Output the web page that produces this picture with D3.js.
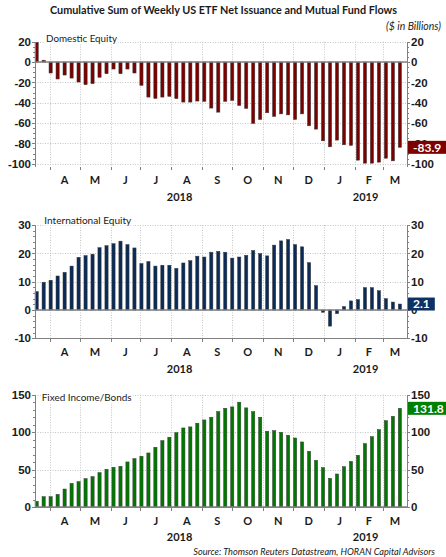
<!DOCTYPE html>
<html>
<head>
<meta charset="utf-8">
<title>Cumulative Sum of Weekly US ETF Net Issuance and Mutual Fund Flows</title>
<script src="https://cdn.jsdelivr.net/npm/d3@7"></script>
<style>
  body { margin: 0; background: #fff; }
  svg { display: block; font-family: Lato, "Open Sans", sans-serif; }
  .grid line { stroke: #c4c4c4; stroke-width: 1; stroke-dasharray: 1,1.5; }
  .axis path, .axis line { stroke: #808080; shape-rendering: crispEdges; }
  .axis text { fill: #1a1a1a; font-size: 11.5px; font-weight: bold; }
  .month, .year { fill: #1a1a1a; font-size: 11px; font-weight: bold; }
</style>
</head>
<body>
<div id="chart"></div>
<script>
// weekly observations, Mondays from 19 Mar 2018 to 18 Mar 2019 (53 weeks)
var weeks = d3.timeMonday.range(new Date(2018, 2, 19), new Date(2019, 2, 19));

var domestic = [19.3, 1.8, -10.8, -16.7, -12.8, -15.8, -19.7, -22.3, -21.3, -15,
  -11.5, -6.9, -11.5, -6.9, -10.8, -23, -34.5, -35.8, -34.5, -33.8,
  -36, -39.4, -39.4, -38.4, -38.7, -45.3, -49.3,
  -38.7, -37.8, -42.7, -45.6, -60.4, -56.5, -49.9, -53.5, -51, -52, -56.5, -51, -62.7,
  -66, -77.5, -83.4, -76.8, -81.4, -82, -96.5, -99.5, -99.5, -98.5, -94.6, -97.2, -83.9];

var international = [6.5, 9.8, 10.5, 12, 13.3, 15.5, 18.6, 19.2, 19.7, 22,
  22.7, 23.4, 24.3, 23.1, 21.9, 16.4, 17.1, 15.5, 15.8, 15.8,
  14.7, 16.6, 17.4, 19, 18.7, 20.4, 20.7,
  20.4, 18.3, 18.7, 19.3, 21, 19.9, 19.1, 22.9, 24.4, 24.9, 23.1, 22.3, 16.7,
  8.6, -0.8, -5.7, -1.3, 1.2, 3.2, 3.7, 7.9, 7.9, 6.8, 4, 2.8, 2.1];

var fixedIncome = [7.6, 13.8, 13.8, 16.9, 24, 31.6, 33.9, 37.9, 40.6, 45.9,
  50.4, 53, 54.4, 60.2, 64.6, 67.8, 72.2, 79.8, 88.7, 93.2,
  99.4, 105.6, 107, 111.9, 116.3, 119.9, 127.4,
  131.9, 133.7, 140, 132.4, 127.4, 119.9, 101.2, 102, 99.8, 95.9, 92.2, 86.9, 74.4,
  62.4, 52.6, 38.3, 44.1, 53.9, 61, 69.1, 84.7, 94, 103.4, 115.4, 121.2, 131.8];

var panelNames = ["Domestic Equity", "International Equity", "Fixed Income/Bonds"];
var lastLabels = ["-83.9", "2.1", "131.8"];

var monthLabels = ["A", "M", "J", "J", "A", "S", "O", "N", "D", "J", "F", "M"];
var yearLabels = ["2018", "2019"];

var domesticTicks = [20, 0, -20, -40, -60, -80, -100];
var internationalTicks = [30, 20, 10, 0, -10];
var fixedTicks = [150, 100, 50, 0];

var width = 446, height = 557;
var left = 35, right = 407;

var svg = d3.select("#chart").append("svg")
    .attr("width", width)
    .attr("height", height);

var x = d3.scaleTime()
    .domain([new Date(2018, 2, 17, 8), new Date(2019, 2, 25, 3)])
    .range([left, right]);

var monthStarts = d3.timeMonth.range(new Date(2018, 3, 1), new Date(2019, 3, 1));

// shrink or grow a text's font size until it has the wanted width
function fitWidth(t, w) {
  var size = parseFloat(t.style("font-size"));
  var len = t.node().getComputedTextLength();
  t.style("font-size", (size * w / len).toFixed(2) + "px");
}

var panels = [
  {values: domestic, ticks: domesticTicks, minorStep: 5, domain: [-100, 20],
   range: [163.7, 41.7], axisY: 166.5, axisLine: false,
   fill: "#7c0000", boxFill: "#7c0000", nameW: 71, nameX: 46, nameY: 39},
  {values: international, ticks: internationalTicks, minorStep: 2, domain: [-10, 30],
   range: [338.3, 225], axisY: 338.3, axisLine: true,
   fill: "#0a2b57", boxFill: "#0d3163", nameW: 87, nameX: 44.3, nameY: 220},
  {values: fixedIncome, ticks: fixedTicks, minorStep: 10, domain: [0, 150],
   range: [507, 394.7], axisY: 507, axisLine: true,
   fill: "#007800", boxFill: "#008000", nameW: 90, nameX: 41.7, nameY: 397.3}
];

panels.forEach(function(p, i) {
  var y = d3.scaleLinear().domain(p.domain).range(p.range);
  var g = svg.append("g").attr("class", "panel");
  var top = p.range[1], bottom = p.axisY;

  var minor = d3.range(p.domain[0], p.domain[1] + 0.001, p.minorStep);

  // dotted gridlines
  g.append("g").attr("class", "grid")
    .selectAll("line.h").data(p.ticks).enter().append("line")
      .attr("x1", left).attr("x2", right)
      .attr("y1", function(d) { return Math.round(y(d)) + 0.5; })
      .attr("y2", function(d) { return Math.round(y(d)) + 0.5; });
  g.select(".grid")
    .selectAll("line.v").data(monthStarts).enter().append("line")
      .attr("x1", function(d) { return Math.round(x(d)) + 0.5; })
      .attr("x2", function(d) { return Math.round(x(d)) + 0.5; })
      .attr("y1", top).attr("y2", bottom);

  // bars
  g.selectAll("rect.bar").data(p.values).enter().append("rect")
      .attr("class", "bar")
      .attr("x", function(d, j) { return x(weeks[j]) - 1.6; })
      .attr("width", 3.2)
      .attr("y", function(d) { return y(Math.max(0, d)); })
      .attr("height", function(d) { return Math.abs(y(d) - y(0)); })
      .attr("fill", p.fill)
      .attr("stroke", "#3c3c3c")
      .attr("stroke-width", 0.5);

  // zero line
  g.append("line")
      .attr("x1", left).attr("x2", right)
      .attr("y1", y(0)).attr("y2", y(0))
      .attr("stroke", "#808080").attr("stroke-width", 1.5);

  // left and right value axes
  g.append("g").attr("class", "axis")
      .attr("transform", "translate(" + left + ",0)")
      .call(d3.axisLeft(y).tickValues(minor).tickSize(2).tickFormat(""))
      .call(function(s) { s.select(".domain").remove(); });
  g.append("g").attr("class", "axis")
      .attr("transform", "translate(" + left + ",0)")
      .call(d3.axisLeft(y).tickValues(p.ticks).tickSize(3).tickPadding(1)
        .tickFormat(function(d) { return String(d); }))
      .call(function(s) { s.select(".domain").attr("d", "M0," + top + "V" + bottom); });

  g.append("g").attr("class", "axis")
      .attr("transform", "translate(" + right + ",0)")
      .call(d3.axisRight(y).tickValues(minor).tickSize(2).tickFormat(""))
      .call(function(s) { s.select(".domain").remove(); });
  g.append("g").attr("class", "axis")
      .attr("transform", "translate(" + right + ",0)")
      .call(d3.axisRight(y).tickValues(p.ticks).tickSize(3).tickPadding(1)
        .tickFormat(function(d) { return String(d); }))
      .call(function(s) { s.select(".domain").attr("d", "M0," + top + "V" + bottom); });

  // time axis with month ticks
  var xa = g.append("g").attr("class", "axis")
      .attr("transform", "translate(0," + bottom + ")")
      .call(d3.axisBottom(x).tickValues(monthStarts).tickSize(3.5).tickFormat(""));
  if (!p.axisLine) xa.select(".domain").remove();
  else xa.select(".domain").attr("d", "M" + left + ",0H" + right);

  var edges = [x.domain()[0]].concat(monthStarts.slice(1), [x.domain()[1]]);
  monthLabels.forEach(function(m, k) {
    var a = k === 0 ? monthStarts[0] : monthStarts[k];
    var b = k + 1 < monthStarts.length ? monthStarts[k + 1] : x.domain()[1];
    g.append("text").attr("class", "month")
        .attr("x", (x(a) + x(b)) / 2)
        .attr("y", bottom + 14)
        .attr("dy", "0.35em")
        .attr("text-anchor", "middle")
        .text(m);
  });
  var newYear = new Date(2019, 0, 1);
  var yearSpans = [[x.domain()[0], newYear], [newYear, x.domain()[1]]];
  yearLabels.forEach(function(yl, k) {
    g.append("text").attr("class", "year")
        .attr("x", (x(yearSpans[k][0]) + x(yearSpans[k][1])) / 2)
        .attr("y", bottom + 30.5)
        .attr("dy", "0.35em")
        .attr("text-anchor", "middle")
        .text(yl);
  });

  // panel name on a white patch
  var nameBg = g.append("rect").attr("fill", "#fff");
  var name = g.append("text")
      .attr("x", p.nameX).attr("y", p.nameY).attr("dy", "0.35em")
      .style("font-size", "11px").attr("fill", "#1a1a1a")
      .text(panelNames[i]);
  fitWidth(name, p.nameW);
  var nb = name.node().getBBox();
  nameBg.attr("x", nb.x - 1).attr("y", nb.y).attr("width", nb.width + 2).attr("height", nb.height);

  // latest value tag on the right axis
  var last = p.values[p.values.length - 1];
  var tagBg = g.append("rect").attr("fill", p.boxFill);
  var tag = g.append("text")
      .attr("x", right + 6).attr("y", y(last)).attr("dy", "0.35em")
      .attr("fill", "#fff").style("font-size", "12px").style("font-weight", "bold")
      .text(lastLabels[i]);
  var tb = tag.node().getBBox();
  tagBg.attr("x", right + 1).attr("y", y(last) - 6.5)
      .attr("width", tb.width + 10).attr("height", 13);
});

var title = svg.append("text")
    .attr("x", 223.5).attr("y", 10.7).attr("dy", "0.35em")
    .attr("text-anchor", "middle")
    .style("font-size", "11px").style("font-weight", "bold").attr("fill", "#1a1a1a")
    .text("Cumulative Sum of Weekly US ETF Net Issuance and Mutual Fund Flows");
fitWidth(title, 347);

var unit = svg.append("text")
    .attr("x", 441).attr("y", 26).attr("dy", "0.35em")
    .attr("text-anchor", "end")
    .style("font-size", "10px").style("font-style", "italic").attr("fill", "#1a1a1a")
    .text("($ in Billions)");
fitWidth(unit, 55);

var source = svg.append("text")
    .attr("x", 435).attr("y", 552).attr("dy", "0.35em")
    .attr("text-anchor", "end")
    .style("font-size", "9px").style("font-style", "italic").attr("fill", "#1a1a1a")
    .text("Source: Thomson Reuters Datastream, HORAN Capital Advisors");
fitWidth(source, 242);
</script>
</body>
</html>
